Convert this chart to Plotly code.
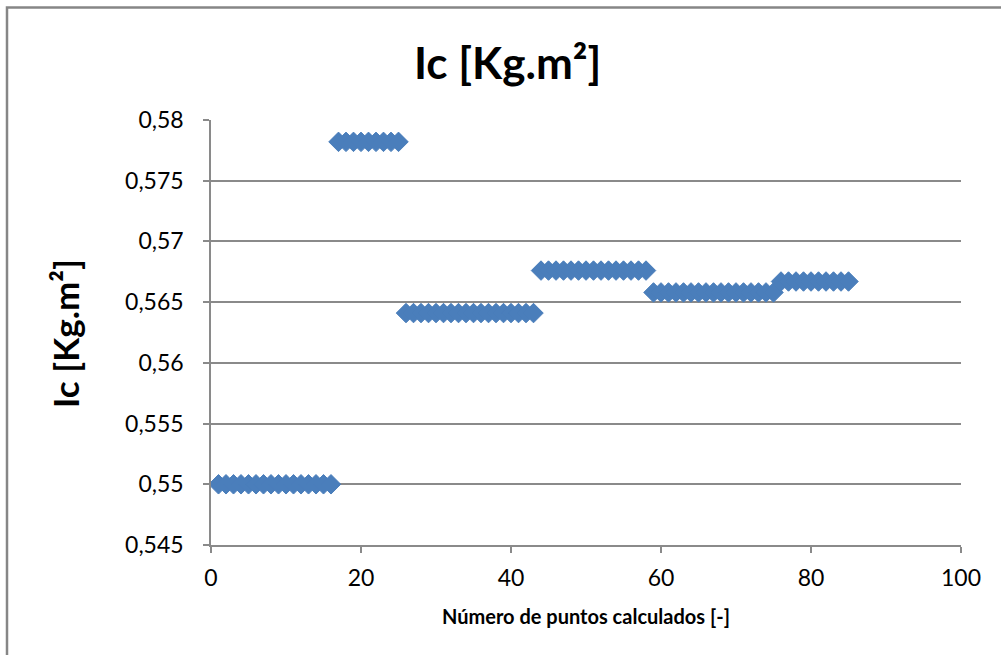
import plotly.graph_objects as go

# Data
point_number = [
    1, 2, 3, 4, 5, 6, 7, 8, 9, 10, 11, 12, 13, 14, 15, 16,
    17, 18, 19, 20, 21, 22, 23, 24, 25,
    26, 27, 28, 29, 30, 31, 32, 33, 34, 35, 36, 37, 38, 39, 40, 41, 42, 43,
    44, 45, 46, 47, 48, 49, 50, 51, 52, 53, 54, 55, 56, 57, 58,
    59, 60, 61, 62, 63, 64, 65, 66, 67, 68, 69, 70, 71, 72, 73, 74, 75,
    76, 77, 78, 79, 80, 81, 82, 83, 84, 85,
]
ic_values = [
    0.5500, 0.5500, 0.5500, 0.5500, 0.5500, 0.5500, 0.5500, 0.5500,
    0.5500, 0.5500, 0.5500, 0.5500, 0.5500, 0.5500, 0.5500, 0.5500,
    0.5782, 0.5782, 0.5782, 0.5782, 0.5782, 0.5782, 0.5782, 0.5782, 0.5782,
    0.5641, 0.5641, 0.5641, 0.5641, 0.5641, 0.5641, 0.5641, 0.5641, 0.5641,
    0.5641, 0.5641, 0.5641, 0.5641, 0.5641, 0.5641, 0.5641, 0.5641, 0.5641,
    0.5676, 0.5676, 0.5676, 0.5676, 0.5676, 0.5676, 0.5676, 0.5676,
    0.5676, 0.5676, 0.5676, 0.5676, 0.5676, 0.5676, 0.5676,
    0.5658, 0.5658, 0.5658, 0.5658, 0.5658, 0.5658, 0.5658, 0.5658, 0.5658,
    0.5658, 0.5658, 0.5658, 0.5658, 0.5658, 0.5658, 0.5658, 0.5658,
    0.5667, 0.5667, 0.5667, 0.5667, 0.5667, 0.5667, 0.5667, 0.5667, 0.5667, 0.5667,
]
x_ticks = [0, 20, 40, 60, 80, 100]
y_ticks = [0.545, 0.55, 0.555, 0.56, 0.565, 0.57, 0.575, 0.58]
y_tick_labels = ["0,545", "0,55", "0,555", "0,56", "0,565", "0,57", "0,575", "0,58"]

title_text = "Ic [Kg.m²]"
y_title_text = "Ic [Kg.m²]"
x_title_text = "Número de puntos calculados [-]"

W, H = 1001, 655
L, R, T, B = 211, 961, 120, 545

grid = "#8a8a8a"

fig = go.Figure()
fig.add_trace(go.Scatter(
    x=point_number, y=ic_values, mode="markers",
    marker=dict(symbol="diamond", size=15, color="#4a7ebb",
                line=dict(color="#4a7ebb", width=1)),
    showlegend=False, cliponaxis=False,
))

def px_x(p):
    return (p - L) / (R - L)

def px_y(p):
    return (B - p) / (B - T)

fig.update_layout(
    width=W, height=H,
    margin=dict(l=L, r=W - R, t=T, b=H - B, pad=0),
    paper_bgcolor="white", plot_bgcolor="white",
    font=dict(family="Lato, Carlito, Calibri, sans-serif", color="black"),
    xaxis=dict(range=[0, 100], tickvals=x_ticks, ticktext=[str(v) for v in x_ticks],
               showgrid=False, zeroline=False, showline=True, linecolor=grid, linewidth=1.5,
               ticks="outside", ticklen=6, tickwidth=1.5, tickcolor=grid,
               tickfont=dict(size=23, color="black"), ticklabelstandoff=6),
    yaxis=dict(range=[0.545, 0.58], tickvals=y_ticks, ticktext=y_tick_labels,
               showgrid=True, gridcolor=grid, gridwidth=1.5,
               zeroline=False, showline=True, linecolor=grid, linewidth=1.5,
               ticks="outside", ticklen=6, tickwidth=1.5, tickcolor=grid,
               tickfont=dict(size=23, color="black"), ticklabelstandoff=15),
    annotations=[
        dict(text="<b>" + title_text + "</b>", xref="paper", yref="paper",
             x=px_x(507), y=px_y(62), xanchor="center", yanchor="middle",
             showarrow=False, font=dict(size=44, color="black")),
        dict(text="<b>" + y_title_text + "</b>", xref="paper", yref="paper",
             x=px_x(65), y=px_y(334), xanchor="center", yanchor="middle",
             textangle=-90, showarrow=False, font=dict(size=35, color="black")),
        dict(text="<b>" + x_title_text + "</b>", xref="paper", yref="paper",
             x=px_x(586), y=px_y(616), xanchor="center", yanchor="middle",
             showarrow=False, font=dict(size=20, color="black")),
    ],
    shapes=[
        dict(type="path", xref="paper", yref="paper",
             path=f"M {px_x(7)},{px_y(700)} L {px_x(7)},{px_y(7.5)} L {px_x(1100)},{px_y(7.5)}",
             line=dict(color="#868686", width=2.5)),
    ],
)

fig.write_html("out.html")
